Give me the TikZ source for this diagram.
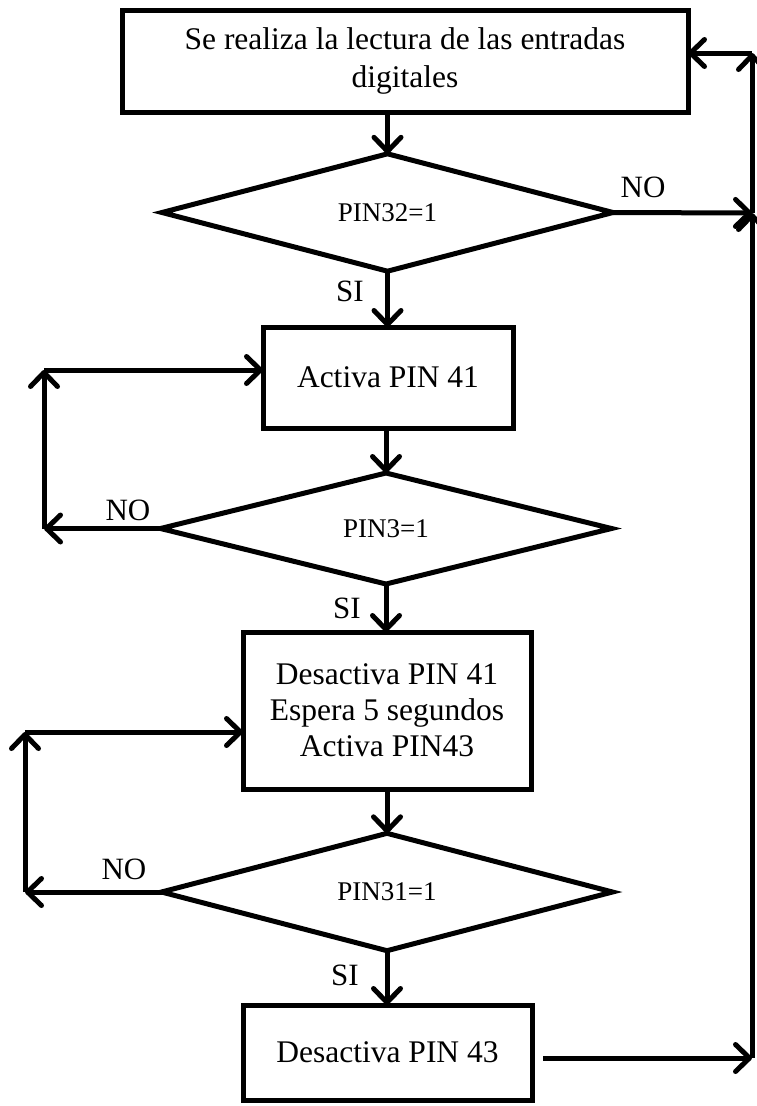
\documentclass[tikz,border=0pt]{standalone}
\usepackage{fontspec}
\setmainfont{Liberation Serif}
\usetikzlibrary{shapes.geometric,arrows.meta}

\tikzset{
  x=1pt, y=-1pt,
  flow/.style={line width=5pt},
  arr/.style={flow, -{Straight Barb[length=14pt,width=27pt,line cap=round,line join=round]}},
  procbox/.style={draw, flow, rectangle, inner sep=0pt, outer sep=0pt, align=center,
    font=\fontsize{31.5}{38}\selectfont},
  decision/.style={draw, flow, diamond, inner sep=0pt, outer sep=0pt,
    minimum width=451pt, minimum height=111pt, font=\fontsize{27}{30}\selectfont},
  lbl/.style={font=\fontsize{31}{36}\selectfont, inner sep=0pt},
}

\begin{document}
\begin{tikzpicture}
\useasboundingbox (0,0) rectangle (757,1106);

% process steps and decisions
\node[procbox, minimum width=566pt, minimum height=102pt] (b1) at (405,61)
  {Se realiza la lectura de las entradas\\digitales};
\node[decision] (d1) at (387.5,212.5) {PIN32=1};
\node[procbox, minimum width=250pt, minimum height=101pt] (b2) at (388,377.5)
  {Activa PIN 41};
\node[decision] (d2) at (386,528.5) {PIN3=1};
\node[procbox, minimum width=288pt, minimum height=157pt,
      font=\fontsize{31.5}{36}\selectfont] (b3) at (387,710.5)
  {Desactiva PIN 41\\Espera 5 segundos\\Activa PIN43};
\node[decision] (d3) at (387,892) {PIN31=1};
\node[procbox, minimum width=289pt, minimum height=95pt] (b4) at (387.5,1052.5)
  {Desactiva PIN 43};

% return path on the right
\coordinate (rbot) at (752,1058);
\coordinate (rmid) at (752,213);
\coordinate (rtop) at (752,53);

% loop corners on the left
\coordinate (l1) at (44,370);
\coordinate (l2) at (25,732);

% main flow
\draw[arr] (d1.north |- b1.south) -- (d1.north);
\draw[arr] (d1.south) -- (d1.south |- b2.north);
\draw[arr] (d2.north |- b2.south) -- (d2.north);
\draw[arr] (d2.south) -- (d2.south |- b3.north);
\draw[arr] (b3.south) -- (d3.north);
\draw[arr] (d3.south) -- (d3.south |- b4.north);

% SI labels
\node[lbl] (si1) at (350,291) {SI};
\node[lbl] (si2) at (347,608) {SI};
\node[lbl] (si3) at (345,975) {SI};

% NO branch of the first decision and the return to the start
\draw[arr] (d1.east) -- (rmid);
\node[lbl] (no1) at (643,187) {NO};
\draw[arr] (rbot -| b4.east) ++(11,0) -- (rbot);
\draw[arr] (rbot) -- (rmid);
\draw[arr] (rmid) -- (rtop);
\draw[arr] (rtop) -- (rtop -| b1.east);

% NO loop of the second decision
\draw[arr] (d2.west) -- (d2.west -| l1);
\draw[arr] (d2.west -| l1) -- (l1);
\draw[arr] (l1) -- (l1 -| b2.west);
\node[lbl] (no2) at (128,510) {NO};

% NO loop of the third decision
\draw[arr] (d3.west) -- (d3.west -| l2);
\draw[arr] (d3.west -| l2) -- (l2);
\draw[arr] (l2) -- (l2 -| b3.west);
\node[lbl] (no3) at (124,869) {NO};
\end{tikzpicture}
\end{document}
